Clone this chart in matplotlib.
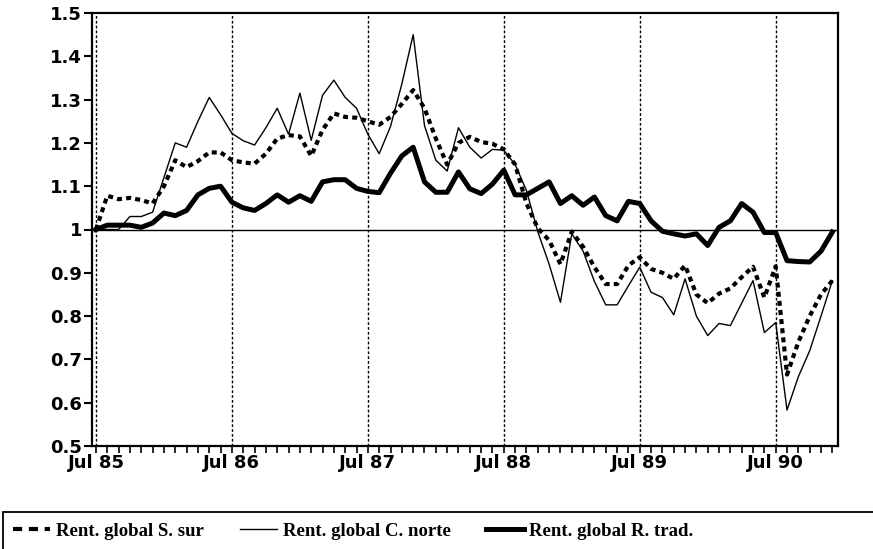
import matplotlib
matplotlib.use("Agg")
import matplotlib.pyplot as plt
from matplotlib.lines import Line2D
from matplotlib.patches import Rectangle
import numpy as np

# monthly series, Jul 85 .. Dec 90
year_labels = ["Jul 85", "Jul 86", "Jul 87", "Jul 88", "Jul 89", "Jul 90"]
y_ticks = [0.5, 0.6, 0.7, 0.8, 0.9, 1.0, 1.1, 1.2, 1.3, 1.4, 1.5]
y_labels = ["0.5", "0.6", "0.7", "0.8", "0.9", "1", "1.1", "1.2", "1.3", "1.4", "1.5"]
series_names = ["Rent. global S. sur", "Rent. global C. norte", "Rent. global R. trad."]

s_sur = [1.00, 1.078, 1.07, 1.073, 1.068, 1.06, 1.10, 1.16, 1.144, 1.158, 1.178, 1.178, 1.16,
         1.155, 1.152, 1.175, 1.21, 1.218, 1.215, 1.17, 1.23, 1.268, 1.26, 1.258, 1.25, 1.242,
         1.26, 1.29, 1.322, 1.28, 1.21, 1.15, 1.20, 1.214, 1.202, 1.198, 1.185, 1.15, 1.06,
         1.003, 0.975, 0.92, 0.995, 0.96, 0.913, 0.874, 0.874, 0.917, 0.936, 0.909, 0.90, 0.886, 0.917,
         0.85, 0.83, 0.852, 0.864, 0.89, 0.914, 0.843, 0.915, 0.665, 0.74, 0.80, 0.85, 0.882]
c_norte = [1.00, 1.00, 1.00, 1.03, 1.03, 1.04, 1.12, 1.20, 1.19, 1.25, 1.305, 1.265, 1.222,
           1.205, 1.195, 1.235, 1.28, 1.22, 1.315, 1.206, 1.31, 1.345, 1.305, 1.28, 1.22, 1.175,
           1.238, 1.336, 1.45, 1.24, 1.16, 1.135, 1.235, 1.19, 1.165, 1.185, 1.183, 1.15, 1.09,
           0.995, 0.92, 0.832, 0.99, 0.95, 0.88, 0.826, 0.826, 0.87, 0.913, 0.855, 0.843, 0.803, 0.886,
           0.80, 0.755, 0.783, 0.778, 0.83, 0.882, 0.762, 0.785, 0.583, 0.66, 0.72, 0.80, 0.882]
r_trad = [1.00, 1.01, 1.01, 1.01, 1.005, 1.015, 1.038, 1.032, 1.044, 1.08, 1.095, 1.10, 1.063,
          1.05, 1.044, 1.06, 1.08, 1.063, 1.078, 1.065, 1.11, 1.115, 1.115, 1.095, 1.088, 1.085,
          1.13, 1.17, 1.19, 1.11, 1.086, 1.086, 1.133, 1.094, 1.083, 1.105, 1.137, 1.08, 1.08,
          1.095, 1.11, 1.06, 1.078, 1.056, 1.075, 1.032, 1.02, 1.065, 1.06, 1.02, 0.996, 0.99, 0.985,
          0.99, 0.963, 1.005, 1.02, 1.06, 1.04, 0.993, 0.993, 0.928, 0.926, 0.925, 0.95, 0.994]

months = np.arange(len(s_sur))
jul_pos = np.arange(0, len(s_sur), 12)

sur_style = dict(color="black", lw=3.0, linestyle=(0, (1.2, 1.0)))
norte_style = dict(color="black", lw=1.0, linestyle="-")
trad_style = dict(color="black", lw=3.6, linestyle="-")
tick_font = dict(family="DejaVu Sans", weight="bold", size=13)

fig = plt.figure(figsize=(8.73, 5.49), dpi=100)
ax = fig.add_axes([92 / 873, 1 - 446 / 549, (838 - 92) / 873, (446 - 13) / 549])

ax.axhline(1.0, color="black", lw=1.0, zorder=1)
for p in jul_pos:
    ax.axvline(p, color="black", lw=1.0, linestyle=(0, (2.0, 1.5)), zorder=1)

ax.plot(months, c_norte, **norte_style, zorder=3)
ax.plot(months, s_sur, **sur_style, zorder=3)
ax.plot(months, r_trad, **trad_style, zorder=4)

ax.set_xlim(-0.35, 65.5)
ax.set_ylim(0.5, 1.5)

for s in ax.spines.values():
    s.set_linewidth(1.6)

ax.set_yticks(y_ticks)
ax.set_yticklabels(y_labels, **tick_font)
ax.set_xticks(jul_pos)
ax.set_xticklabels(year_labels, **tick_font)
ax.set_xticks(months, minor=True)
ax.tick_params(axis="y", direction="out", length=6, width=1.5, pad=1)
ax.tick_params(axis="x", which="both", direction="out", length=5, width=1.2, pad=1)

# legend strip at the bottom
fig.add_artist(Rectangle((3 / 873, -0.05), 1.0, (549 - 512) / 549 + 0.05,
                         transform=fig.transFigure, fill=False, lw=1.3, ec="black"))
handles = [Line2D([], [], color="black", lw=3.0, linestyle=(0, (2.2, 1.6))),
           Line2D([], [], **norte_style),
           Line2D([], [], **trad_style)]
fig.legend(handles, series_names, loc="center left", bbox_to_anchor=(-4 / 873, 1 - 531 / 549),
           ncol=3, frameon=False, handlelength=2.0, handletextpad=0.3, columnspacing=1.9,
           prop=dict(family="Liberation Serif", weight="bold", size=13.5))

fig.savefig("out.png", dpi=100)
